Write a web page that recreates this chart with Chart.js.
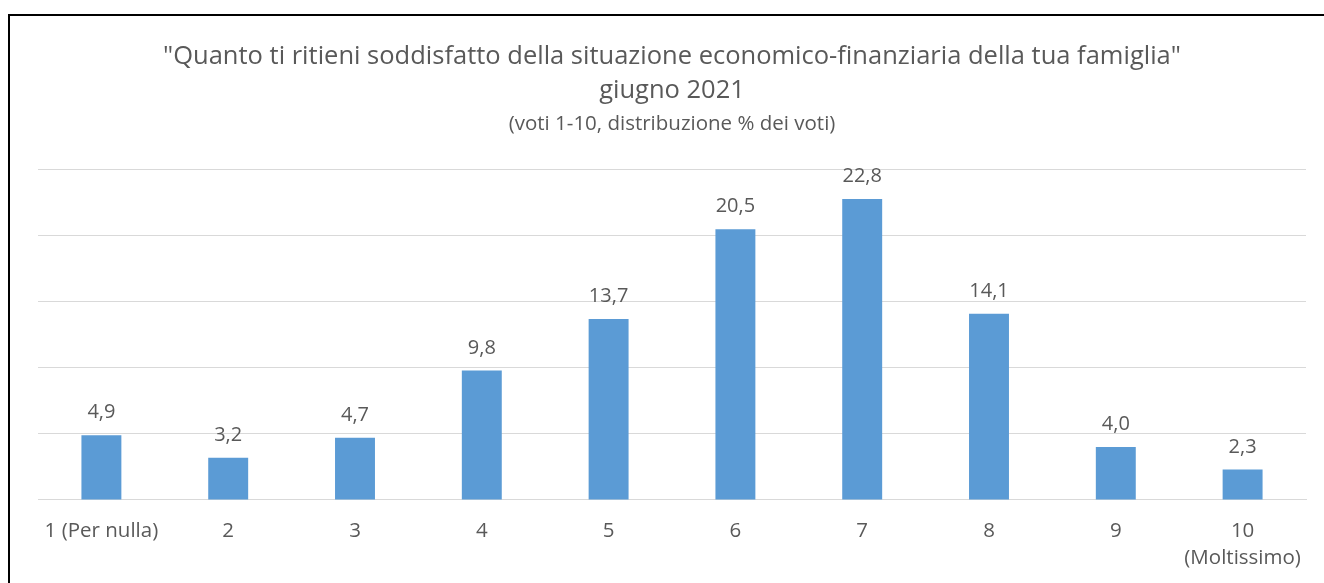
<!DOCTYPE html>
<html><head><meta charset="utf-8">
<script src="https://cdn.jsdelivr.net/npm/chart.js@4/dist/chart.umd.min.js"></script>
<style>
html,body{margin:0;padding:0;background:#fff;overflow:hidden;}
#frame{position:absolute;left:8px;top:14px;width:1400px;height:700px;border:2px solid #000;box-sizing:border-box;}
#wrap{position:absolute;left:0;top:0;width:1324px;height:590px;}
</style></head><body>
<div id="frame"></div>
<div id="wrap"><canvas id="c" width="1324" height="590"></canvas></div>
<script>
const categories = ['1 (Per nulla)', '2', '3', '4', '5', '6', '7', '8', '9', ['10', '(Moltissimo)']];
const values = [4.9, 3.2, 4.7, 9.8, 13.7, 20.5, 22.8, 14.1, 4.0, 2.3];
const titleLines = ['"Quanto ti ritieni soddisfatto della situazione economico-finanziaria della tua famiglia"', 'giugno 2021'];
const subtitleText = '(voti 1-10, distribuzione % dei voti)';
const FONT = '"Open Sans", sans-serif';
const TXT = '#595959';

const valueLabels = {
  id: 'valueLabels',
  afterDatasetsDraw(chart) {
    const ctx = chart.ctx;
    const meta = chart.getDatasetMeta(0);
    ctx.save();
    ctx.font = '20px ' + FONT;
    ctx.fillStyle = TXT;
    ctx.textAlign = 'center';
    ctx.textBaseline = 'alphabetic';
    meta.data.forEach((bar, i) => {
      ctx.fillText(values[i].toFixed(1).replace('.', ','), bar.x, bar.y - 17);
    });
    ctx.restore();
  }
};

new Chart(document.getElementById('c'), {
  type: 'bar',
  data: {
    labels: categories,
    datasets: [{ data: values, backgroundColor: '#5b9bd5', borderWidth: 0,
      barPercentage: 0.315, categoryPercentage: 1 }]
  },
  options: {
    responsive: false,
    animation: false,
    layout: { padding: { left: 38, right: 18, top: 23, bottom: 0 } },
    plugins: {
      legend: { display: false },
      tooltip: { enabled: false },
      title: { display: true, text: titleLines, color: TXT,
        font: { family: FONT, size: 25.5, weight: 'normal', lineHeight: 1.333 },
        padding: { top: 17, bottom: 6 } },
      subtitle: { display: true, text: subtitleText, color: TXT,
        font: { family: FONT, size: 20.5, weight: 'normal', lineHeight: 1.0 },
        padding: { top: 0, bottom: 35.5 } }
    },
    scales: {
      x: {
        grid: { display: false, drawTicks: false },
        border: { display: true, color: '#d9d9d9', width: 1 },
        ticks: { color: TXT, font: { family: FONT, size: 20.5, lineHeight: 1.32 }, padding: 18, maxRotation: 0, autoSkip: false }
      },
      y: {
        display: true,
        min: 0, max: 25,
        ticks: { display: false, stepSize: 5 },
        grid: { color: '#d9d9d9', lineWidth: 1, drawTicks: false },
        border: { display: false }
      }
    }
  },
  plugins: [valueLabels]
});
</script>
</body></html>
